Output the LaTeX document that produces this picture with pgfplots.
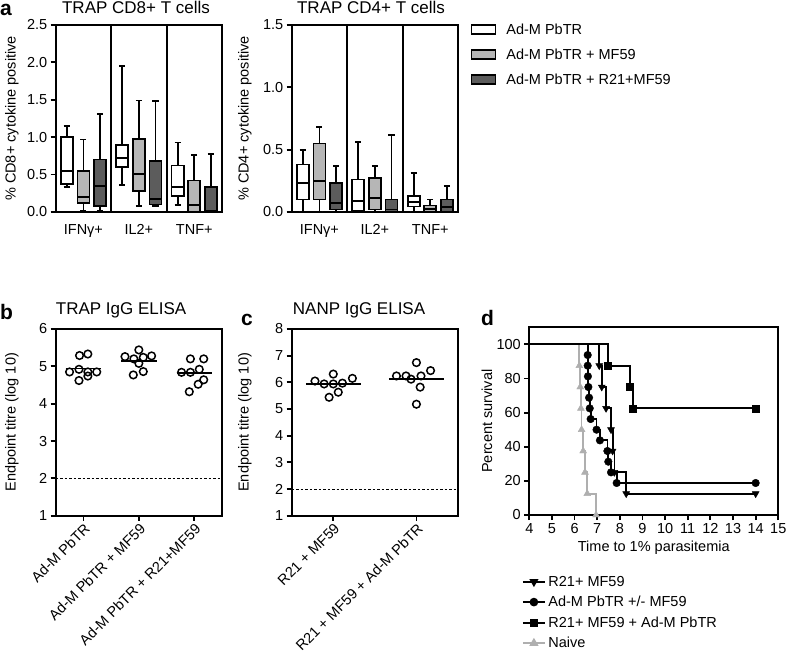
\documentclass[border=0pt]{standalone}
\usepackage{fontspec}
\setmainfont{Liberation Sans}
\usepackage{pgfplots}
\pgfplotsset{compat=1.18}
\usepackage{pgfplotstable}
\usepgfplotslibrary{statistics}
\definecolor{lgray}{RGB}{182,182,182}
\definecolor{dgray}{RGB}{92,92,92}
\definecolor{ngray}{RGB}{175,175,175}
\newcommand\fs{\fontsize{14.5bp}{17bp}\selectfont}
\newcommand\ft{\fontsize{17bp}{20bp}\selectfont}
\newcommand\fl{\fontsize{21bp}{24bp}\selectfont\bfseries}

\pgfplotstableread{
x y
4 100
7.09 87.5
7.20 75
7.39 62.5
7.61 50
7.68 37.5
7.76 25
8.28 12.5
14 12.5
}\dtri
\pgfplotstableread{
x y
4 100
6.58 93.75
6.58 87.5
6.59 81.25
6.61 75
6.64 68.75
6.67 62.5
6.71 56.25
6.97 50
7.12 43.75
7.45 37.5
7.49 31.25
7.61 25
7.86 18.75
14 18.75
}\dcirc
\pgfplotstableread{
x y
4 100
7.46 87.5
8.45 75
8.57 62.5
14 62.5
}\dsq
\pgfplotstableread{
x y
4 100
6.21 87.5
6.25 75
6.28 62.5
6.31 50
6.38 37.5
6.46 25
6.56 12.5
6.95 0
}\dnaive

\pgfplotsset{
  myaxis/.style={
    scale only axis,
    axis line style={line width=1.8bp},
    every tick/.style={black, line width=1.8bp},
    major tick length=5bp,
    tick align=outside,
    xtick pos=bottom, ytick pos=left,
    tick label style={font=\fs},
    label style={font=\fs},
    /pgf/number format/assume math mode=true,
    clip=false,
  },
  bx/.style={draw=black, line width=1.7bp, forget plot, boxplot/draw direction=y},
  dv/.style={black, line width=2bp, forget plot},
  pt/.style={only marks, mark=o, mark size=3.8bp, mark options={line width=1.5bp, black}, forget plot},
  med/.style={black, line width=1.6bp, forget plot},
}

\begin{document}
\begin{tikzpicture}
\useasboundingbox (0,0) rectangle (787bp,664bp);

% ---------------- panel a, CD8
\begin{axis}[myaxis, at={(55.7bp,452bp)}, anchor=south west,
  width=166.3bp, height=187bp,
  xmin=0, xmax=9, ymin=0, ymax=2.5,
  ytick={0,0.5,1,1.5,2,2.5},
  yticklabel style={/pgf/number format/.cd, fixed, fixed zerofill, precision=1},
  xtick={1.5,4.5,7.5}, xticklabels={IFNγ+,IL2+,TNF+},
  xticklabel style={yshift=-4bp},
  x tick style={draw=none},
  ylabel={\% CD8+ cytokine positive},
  ylabel style={at={(axis description cs:-0.263,0.5)}, anchor=center},
  title={TRAP CD8+ T cells},
  title style={at={(axis description cs:0.483,1.063)}, anchor=center, yshift=0pt, font=\ft},
]
\addplot[dv] coordinates {(3,0) (3,2.5)};
\addplot[dv] coordinates {(6,0) (6,2.5)};
\addplot[bx, fill=white, boxplot prepared={draw position=0.6, lower whisker=0.33, lower quartile=0.37, median=0.55, upper quartile=1.0, upper whisker=1.15, box extend=0.65, whisker extend=0.33}] coordinates {};
\addplot[bx, fill=lgray, boxplot prepared={draw position=1.5, lower whisker=0.02, lower quartile=0.12, median=0.2, upper quartile=0.55, upper whisker=0.97, box extend=0.65, whisker extend=0.33}] coordinates {};
\addplot[bx, fill=dgray, boxplot prepared={draw position=2.4, lower whisker=0.01, lower quartile=0.08, median=0.35, upper quartile=0.70, upper whisker=1.31, box extend=0.65, whisker extend=0.33}] coordinates {};
\addplot[bx, fill=white, boxplot prepared={draw position=3.6, lower whisker=0.36, lower quartile=0.60, median=0.72, upper quartile=0.90, upper whisker=1.95, box extend=0.65, whisker extend=0.33}] coordinates {};
\addplot[bx, fill=lgray, boxplot prepared={draw position=4.5, lower whisker=0.08, lower quartile=0.28, median=0.51, upper quartile=0.98, upper whisker=1.49, box extend=0.65, whisker extend=0.33}] coordinates {};
\addplot[bx, fill=dgray, boxplot prepared={draw position=5.4, lower whisker=0.08, lower quartile=0.10, median=0.17, upper quartile=0.68, upper whisker=1.48, box extend=0.65, whisker extend=0.33}] coordinates {};
\addplot[bx, fill=white, boxplot prepared={draw position=6.6, lower whisker=0.09, lower quartile=0.21, median=0.33, upper quartile=0.62, upper whisker=0.93, box extend=0.65, whisker extend=0.33}] coordinates {};
\addplot[bx, fill=lgray, boxplot prepared={draw position=7.5, lower whisker=0.0, lower quartile=0.0, median=0.09, upper quartile=0.42, upper whisker=0.76, box extend=0.65, whisker extend=0.33}] coordinates {};
\addplot[bx, fill=dgray, boxplot prepared={draw position=8.4, lower whisker=0.0, lower quartile=0.0, median=0.01, upper quartile=0.33, upper whisker=0.78, box extend=0.65, whisker extend=0.33}] coordinates {};
\end{axis}

% ---------------- panel a, CD4
\begin{axis}[myaxis, at={(291.7bp,452bp)}, anchor=south west,
  width=166.3bp, height=187bp,
  xmin=0, xmax=9, ymin=0, ymax=1.5,
  ytick={0,0.5,1,1.5},
  yticklabel style={/pgf/number format/.cd, fixed, fixed zerofill, precision=1},
  xtick={1.5,4.5,7.5}, xticklabels={IFNγ+,IL2+,TNF+},
  xticklabel style={yshift=-4bp},
  x tick style={draw=none},
  ylabel={\% CD4+ cytokine positive},
  ylabel style={at={(axis description cs:-0.281,0.5)}, anchor=center},
  title={TRAP CD4+ T cells},
  title style={at={(axis description cs:0.477,1.063)}, anchor=center, yshift=0pt, font=\ft},
  legend style={at={(1.075,1.03)}, anchor=north west, draw=none, fill=none,
    font=\fs, inner sep=0pt, row sep=5bp, nodes={inner sep=4bp},
    /tikz/every odd column/.append style={column sep=6bp}},
  legend cell align=left,
]
\addplot[dv] coordinates {(3,0) (3,1.5)};
\addplot[dv] coordinates {(6,0) (6,1.5)};
\addplot[bx, fill=white, boxplot prepared={draw position=0.6, lower whisker=0.0, lower quartile=0.10, median=0.23, upper quartile=0.38, upper whisker=0.50, box extend=0.65, whisker extend=0.33}] coordinates {};
\addplot[bx, fill=lgray, boxplot prepared={draw position=1.5, lower whisker=0.0, lower quartile=0.10, median=0.25, upper quartile=0.55, upper whisker=0.68, box extend=0.65, whisker extend=0.33}] coordinates {};
\addplot[bx, fill=dgray, boxplot prepared={draw position=2.4, lower whisker=0.0, lower quartile=0.02, median=0.07, upper quartile=0.23, upper whisker=0.37, box extend=0.65, whisker extend=0.33}] coordinates {};
\addplot[bx, fill=white, boxplot prepared={draw position=3.6, lower whisker=0.0, lower quartile=0.01, median=0.09, upper quartile=0.26, upper whisker=0.56, box extend=0.65, whisker extend=0.33}] coordinates {};
\addplot[bx, fill=lgray, boxplot prepared={draw position=4.5, lower whisker=0.0, lower quartile=0.02, median=0.11, upper quartile=0.27, upper whisker=0.37, box extend=0.65, whisker extend=0.33}] coordinates {};
\addplot[bx, fill=dgray, boxplot prepared={draw position=5.4, lower whisker=0.0, lower quartile=0.005, median=0.02, upper quartile=0.10, upper whisker=0.62, box extend=0.65, whisker extend=0.33}] coordinates {};
\addplot[bx, fill=white, boxplot prepared={draw position=6.6, lower whisker=0.0, lower quartile=0.045, median=0.08, upper quartile=0.13, upper whisker=0.31, box extend=0.65, whisker extend=0.33}] coordinates {};
\addplot[bx, fill=lgray, boxplot prepared={draw position=7.5, lower whisker=0.0, lower quartile=0.0, median=0.024, upper quartile=0.053, upper whisker=0.10, box extend=0.65, whisker extend=0.33}] coordinates {};
\addplot[bx, fill=dgray, boxplot prepared={draw position=8.4, lower whisker=0.0, lower quartile=0.0, median=0.04, upper quartile=0.10, upper whisker=0.21, box extend=0.65, whisker extend=0.33}] coordinates {};
\addlegendimage{legend image code/.code={\draw[draw=black, line width=1.7bp, fill=white] (0bp,-4.5bp) rectangle (24bp,4.5bp);}}
\addlegendentry{Ad-M PbTR}
\addlegendimage{legend image code/.code={\draw[draw=black, line width=1.7bp, fill=lgray] (0bp,-4.5bp) rectangle (24bp,4.5bp);}}
\addlegendentry{Ad-M PbTR + MF59}
\addlegendimage{legend image code/.code={\draw[draw=black, line width=1.7bp, fill=dgray] (0bp,-4.5bp) rectangle (24bp,4.5bp);}}
\addlegendentry{Ad-M PbTR + R21+MF59}
\end{axis}

% ---------------- panel b
\begin{axis}[myaxis, at={(55.7bp,148.3bp)}, anchor=south west,
  width=166.3bp, height=186.7bp,
  xmin=0.5, xmax=3.5, ymin=1, ymax=6,
  ytick={1,2,3,4,5,6},
  xtick={1,2,3}, xticklabels={Ad-M PbTR, Ad-M PbTR + MF59, Ad-M PbTR + R21+MF59},
  xticklabel style={rotate=45, anchor=north east, inner sep=1bp},
  ylabel={Endpoint titre (log 10)},
  ylabel style={at={(axis description cs:-0.263,0.5)}, anchor=center},
  title={TRAP IgG ELISA},
  title style={at={(axis description cs:0.393,1.07)}, anchor=center, yshift=0pt, font=\ft},
]
\addplot[black, line width=0.7bp, dash pattern=on 2.5bp off 2bp, forget plot] coordinates {(0.5,2) (3.5,2)};
\addplot[pt] coordinates {(0.93,5.29) (1.08,5.33) (0.75,4.85) (0.92,4.92) (1.08,4.85) (1.24,4.85) (0.92,4.62) (1.08,4.74)};
\addplot[pt] coordinates {(2.00,5.44) (1.75,5.26) (1.91,5.20) (2.08,5.24) (2.23,5.28) (2.00,5.08) (1.90,4.77) (2.08,4.86)};
\addplot[pt] coordinates {(2.93,5.20) (3.17,5.20) (2.77,4.84) (2.93,4.84) (3.09,4.92) (3.17,4.64) (3.07,4.52) (2.91,4.32)};
\addplot[med] coordinates {(0.68,4.94) (1.32,4.94)};
\addplot[med] coordinates {(1.68,5.14) (2.32,5.14)};
\addplot[med] coordinates {(2.68,4.82) (3.32,4.82)};
\end{axis}

% ---------------- panel c
\begin{axis}[myaxis, at={(291.7bp,148.3bp)}, anchor=south west,
  width=166.3bp, height=186.7bp,
  xmin=0.5, xmax=2.5, ymin=1, ymax=8,
  ytick={1,2,3,4,5,6,7,8},
  xtick={1,2}, xticklabels={R21 + MF59, R21 + MF59 + Ad-M PbTR},
  xticklabel style={rotate=45, anchor=north east, inner sep=1bp},
  ylabel={Endpoint titre (log 10)},
  ylabel style={at={(axis description cs:-0.281,0.5)}, anchor=center},
  title={NANP IgG ELISA},
  title style={at={(axis description cs:0.405,1.07)}, anchor=center, yshift=0pt, font=\ft},
]
\addplot[black, line width=0.7bp, dash pattern=on 2.5bp off 2bp, forget plot] coordinates {(0.5,2) (2.5,2)};
\addplot[pt] coordinates {(0.78,6.05) (0.89,5.94) (1.0,6.31) (1.0,5.94) (1.11,5.97) (1.23,6.15) (1.06,5.63) (0.95,5.44)};
\addplot[pt] coordinates {(2.0,6.74) (1.76,6.24) (1.875,6.24) (1.935,6.12) (2.055,6.24) (2.17,6.44) (2.045,5.82) (2.0,5.18)};
\addplot[med] coordinates {(0.67,5.94) (1.33,5.94)};
\addplot[med] coordinates {(1.67,6.12) (2.33,6.12)};
\end{axis}

% ---------------- panel d
\begin{axis}[myaxis, at={(529.3bp,149bp)}, anchor=south west,
  width=249bp, height=187.7bp,
  xmin=4, xmax=15, ymin=0, ymax=110,
  xtick={4,5,6,7,8,9,10,11,12,13,14,15},
  ytick={0,20,40,60,80,100},
  xlabel={Time to 1\% parasitemia},
  ylabel={Percent survival},
  ylabel style={at={(axis description cs:-0.17,0.5)}, anchor=center},
  legend style={at={(-0.03,-0.31)}, anchor=north west, draw=none, fill=none,
    font=\fs, inner sep=0pt, row sep=3.3bp, nodes={inner sep=2.6bp}},
  legend cell align=left,
  legend image code/.code={\draw[mark repeat=2,mark phase=2,#1] plot coordinates {(0bp,0bp) (11bp,0bp) (22bp,0bp)};},
]
\addplot[ngray, line width=1.8bp, const plot, forget plot] table {\dnaive};
\addplot[ngray, only marks, mark=triangle*, mark size=4bp, mark options={fill=ngray, draw=ngray}, skip coords between index={0}{1}, forget plot] table {\dnaive};
\addplot[black, line width=1.8bp, const plot, forget plot] table {\dtri};
\addplot[black, only marks, mark=triangle*, mark size=4bp, mark options={fill=black, rotate=180}, skip coords between index={0}{1}, forget plot] table {\dtri};
\addplot[black, line width=1.8bp, const plot, forget plot] table {\dcirc};
\addplot[black, only marks, mark=*, mark size=3.8bp, mark options={fill=black}, skip coords between index={0}{1}, forget plot] table {\dcirc};
\addplot[black, line width=1.8bp, const plot, forget plot] table {\dsq};
\addplot[black, only marks, mark=square*, mark size=3.6bp, mark options={fill=black}, skip coords between index={0}{1}, forget plot] table {\dsq};
\addlegendimage{black, line width=1.8bp, mark=triangle*, mark size=3.5bp, mark options={rotate=180, fill=black}}
\addlegendentry{R21+ MF59}
\addlegendimage{black, line width=1.8bp, mark=*, mark size=3.4bp, mark options={fill=black}}
\addlegendentry{Ad-M PbTR +/- MF59}
\addlegendimage{black, line width=1.8bp, mark=square*, mark size=3.2bp, mark options={fill=black}}
\addlegendentry{R21+ MF59 + Ad-M PbTR}
\addlegendimage{ngray, line width=1.8bp, mark=triangle*, mark size=3.5bp, mark options={fill=ngray, draw=ngray}}
\addlegendentry{Naive}
\end{axis}

% panel letters
\node[anchor=base west, font=\fl, inner sep=0pt, text height=11bp] at (0bp,648bp) {a};
\node[anchor=base west, font=\fl, inner sep=0pt, text height=15bp] at (0bp,344bp) {b};
\node[anchor=base west, font=\fl, inner sep=0pt, text height=11bp] at (241bp,338bp) {c};
\node[anchor=base west, font=\fl, inner sep=0pt, text height=15bp] at (481bp,338bp) {d};
\end{tikzpicture}
\end{document}
